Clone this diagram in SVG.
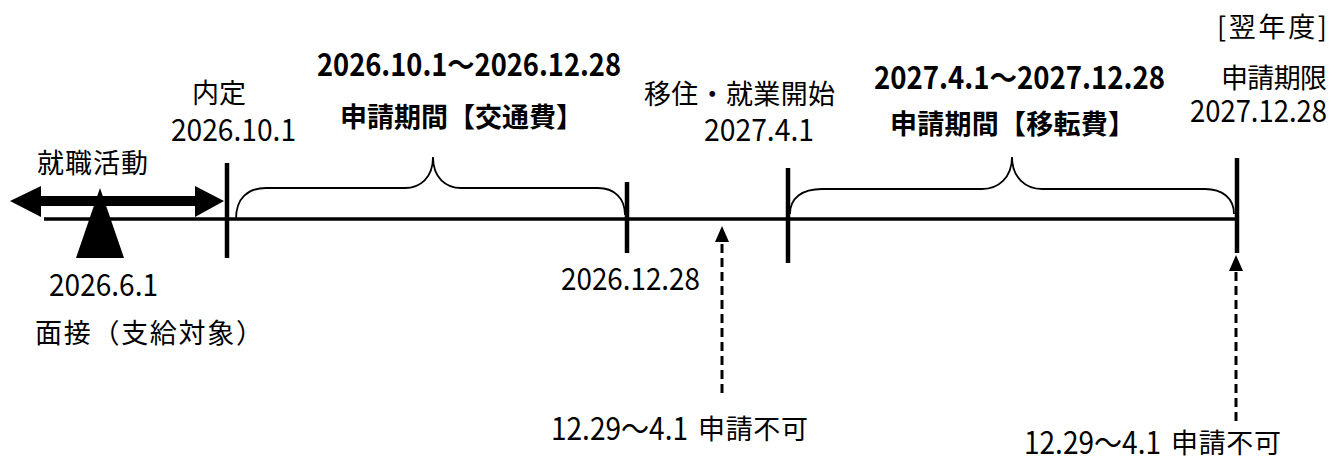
<svg xmlns="http://www.w3.org/2000/svg" width="1335" height="459" viewBox="0 0 1335 459">
<style>
.t{font-family:"Noto Sans CJK JP","Noto Sans",sans-serif;font-size:27px;fill:#000}
.d{font-family:"Noto Sans CJK JP","Noto Sans",sans-serif;font-size:31px;fill:#000}
.b{font-weight:700}
.tick{stroke:#000;stroke-width:4.5;fill:none}
.brace{stroke:#000;stroke-width:1.8;fill:none}
.dash{stroke:#000;stroke-width:3;stroke-dasharray:9 5;fill:none}
</style>
<rect width="1335" height="459" fill="#fff"/>
<g id="connectors">
  <line x1="44" y1="219" x2="1237" y2="219" stroke="#000" stroke-width="3.5"/>
  <path class="brace" d="M236,219 C236,198 248,188 266,188 L405,188 C420,188 433,178 433,157 C433,178 446,188 461,188 L598,188 C614,188 625,198 625,215"/>
  <path class="brace" d="M790,214 C790,198 802,189 822,189 L982,189 C998,189 1012,178 1012,157 C1012,178 1026,189 1042,189 L1205,189 C1222,189 1234,198 1234,214"/>
  <line class="dash" x1="722" y1="244" x2="722" y2="393"/>
  <polygon points="722,226 715,242 729,242" fill="#000"/>
  <line class="dash" x1="1236" y1="272" x2="1236" y2="422"/>
  <polygon points="1236,255 1229,271 1243,271" fill="#000"/>
</g>
<g id="job-hunting">
  <polygon points="10,201 41,186 41,196 195,196 195,186 224,201 195,217 195,206 41,206 41,217" fill="#000"/>
  <text class="t" x="37" y="173" textLength="111">就職活動</text>
</g>
<g id="interview">
  <polygon points="100,188 124,258 76,258" fill="#000"/>
  <text class="d" x="49" y="296" textLength="109" lengthAdjust="spacingAndGlyphs">2026.6.1</text>
  <text class="t" x="35" y="343" textLength="228">面接（支給対象）</text>
</g>
<g id="offer">
  <line class="tick" x1="227" y1="163" x2="227" y2="258"/>
  <text class="t" x="192" y="103">内定</text>
  <text class="d" x="171" y="141" textLength="125" lengthAdjust="spacingAndGlyphs">2026.10.1</text>
</g>
<g id="period-transport">
  <text class="d b" x="317" y="76" textLength="304" lengthAdjust="spacingAndGlyphs">2026.10.1～2026.12.28</text>
  <text class="t b" x="340" y="127" textLength="243">申請期間【交通費】</text>
</g>
<g id="end-2026">
  <line class="tick" x1="627" y1="182" x2="627" y2="253"/>
  <text class="d" x="561" y="290" textLength="139" lengthAdjust="spacingAndGlyphs">2026.12.28</text>
</g>
<g id="gap-1">
  <text class="d" x="551" y="440" textLength="137" lengthAdjust="spacingAndGlyphs">12.29～4.1</text>
  <text class="t" x="698" y="439" textLength="110">申請不可</text>
</g>
<g id="start-work">
  <line class="tick" x1="788" y1="168" x2="788" y2="263"/>
  <text class="t" x="644" y="104" textLength="191">移住・就業開始</text>
  <text class="d" x="704" y="141" textLength="110" lengthAdjust="spacingAndGlyphs">2027.4.1</text>
</g>
<g id="period-relocation">
  <text class="d b" x="874" y="89" textLength="291" lengthAdjust="spacingAndGlyphs">2027.4.1～2027.12.28</text>
  <text class="t b" x="890" y="134" textLength="245">申請期間【移転費】</text>
</g>
<g id="deadline">
  <line class="tick" x1="1237" y1="158" x2="1237" y2="253"/>
  <text class="t" x="1217" y="37" textLength="110">[翌年度]</text>
  <text class="t" x="1221" y="88" textLength="106">申請期限</text>
  <text class="d" x="1190" y="122" textLength="137" lengthAdjust="spacingAndGlyphs">2027.12.28</text>
</g>
<g id="gap-2">
  <text class="d" x="1024" y="454" textLength="137" lengthAdjust="spacingAndGlyphs">12.29～4.1</text>
  <text class="t" x="1171" y="453" textLength="110">申請不可</text>
</g>
</svg>
